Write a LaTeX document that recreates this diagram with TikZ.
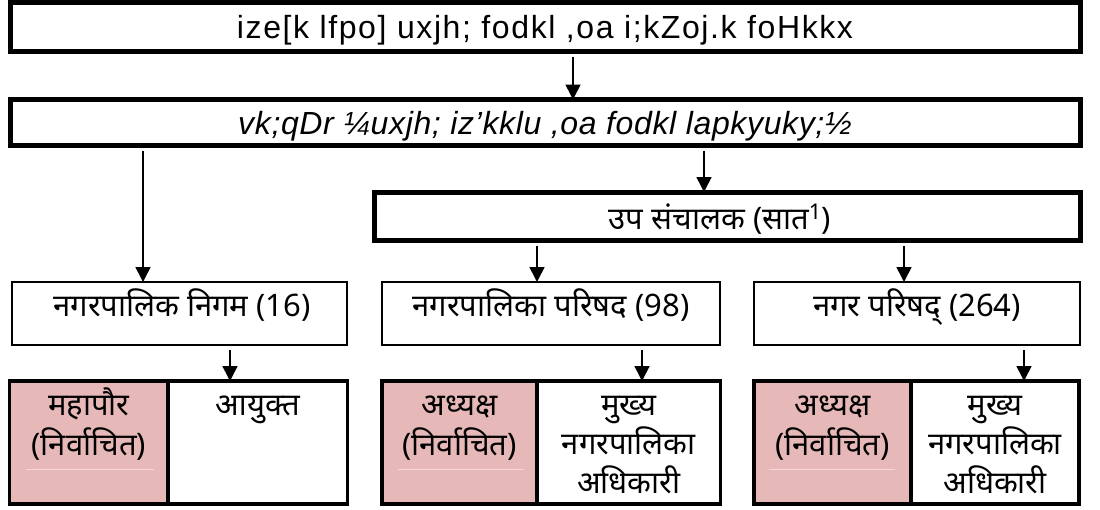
\documentclass[tikz,border=0pt]{standalone}
\usepackage{fontspec}
\setmainfont{Liberation Sans}
\newfontfamily\deva[Script=Devanagari]{Noto Sans}
\usetikzlibrary{arrows.meta}
\definecolor{pinkcell}{RGB}{230,184,183}
\definecolor{pinkline}{RGB}{243,216,215}
\begin{document}
\begin{tikzpicture}[x=1pt,y=-1pt,
  heavybox/.style={draw,line width=5pt,inner sep=0pt,outer sep=0pt},
  thinbox/.style={draw,line width=2pt,inner sep=0pt,outer sep=0pt},
  cellbox/.style={draw,line width=3.5pt,inner sep=0pt,outer sep=0pt},
  pinkbox/.style={cellbox,fill=pinkcell},
  whitebox/.style={cellbox,fill=white},
  legacytxt/.style={font=\fontsize{32}{36}\selectfont\addfontfeature{LetterSpace=5},inner sep=0pt,anchor=base},
  devtxt/.style={font=\deva\fontsize{31}{36}\selectfont,inner sep=0pt,anchor=base},
  celltxt/.style={font=\deva\fontsize{31}{36}\selectfont,inner sep=0pt,anchor=base},
  arr/.style={line width=1.6pt,-{Triangle[width=15pt,length=15pt]},shorten <=5pt},
  faint/.style={draw=pinkline,line width=1pt}
]
\useasboundingbox (0,0) rectangle (1100,509);

% top boxes
\node[heavybox,minimum width=1070pt,minimum height=49pt] (b1) at (545,27) {};
\node[legacytxt] (t1) at (545,38) {ize[k lfpo] uxjh; fodkl ,oa i;kZoj.k foHkkx};
\node[heavybox,minimum width=1070pt,minimum height=46pt] (b2) at (545,122.5) {};
\node[legacytxt,font=\itshape\fontsize{32}{36}\selectfont\addfontfeature{LetterSpace=2}] (t2) at (545,134) {vk;qDr ¼uxjh; iz'kklu ,oa fodkl lapkyuky;½};
\node[heavybox,minimum width=705.5pt,minimum height=48.5pt] (b3) at (727.25,216.25) {};
\node[devtxt] (t3) at (720,229) {उप संचालक (सात\textsuperscript{1})};

% second row
\node[thinbox,minimum width=335pt,minimum height=63pt] (rA) at (179,313.5) {};
\node[devtxt] (tA) at (182,316) {नगरपालिक निगम (16)};
\node[thinbox,minimum width=338pt,minimum height=63pt] (rB) at (551,313.5) {};
\node[devtxt] (tB) at (551,316) {नगरपालिका परिषद (98)};
\node[thinbox,minimum width=326pt,minimum height=63pt] (rC) at (917,313.5) {};
\node[devtxt] (tC) at (917,316) {नगर परिषद् (264)};

% bottom groups
\node[pinkbox,minimum width=158.5pt,minimum height=123pt] (pA) at (88.75,442.5) {};
\node[whitebox,minimum width=179.5pt,minimum height=123pt] (wA) at (257.75,442.5) {};
\node[pinkbox,minimum width=155pt,minimum height=123pt] (pB) at (459.5,442.5) {};
\node[whitebox,minimum width=183.5pt,minimum height=123pt] (wB) at (628.75,442.5) {};
\node[pinkbox,minimum width=157pt,minimum height=123pt] (pC) at (832.5,442.5) {};
\node[whitebox,minimum width=168pt,minimum height=123pt] (wC) at (995,442.5) {};

\coordinate (lA1) at (26,469);  \coordinate (lA2) at (154,469);
\coordinate (lB1) at (398,469); \coordinate (lB2) at (524,469);
\coordinate (lC1) at (769,469); \coordinate (lC2) at (895,469);
\draw[faint] (lA1) -- (lA2);
\draw[faint] (lB1) -- (lB2);
\draw[faint] (lC1) -- (lC2);

\node[celltxt] (cpA1) at (88.75,415) {महापौर};
\node[celltxt] (cpA2) at (88.75,455) {(निर्वाचित)};
\node[celltxt] (cwA1) at (257.75,415) {आयुक्त};
\node[celltxt] (cpB1) at (459.5,415) {अध्यक्ष};
\node[celltxt] (cpB2) at (459.5,455) {(निर्वाचित)};
\node[celltxt] (cwB1) at (628.75,415) {मुख्य};
\node[celltxt] (cwB2) at (628.75,454) {नगरपालिका};
\node[celltxt] (cwB3) at (628.75,493) {अधिकारी};
\node[celltxt] (cpC1) at (832.5,415) {अध्यक्ष};
\node[celltxt] (cpC2) at (832.5,455) {(निर्वाचित)};
\node[celltxt] (cwC1) at (995,415) {मुख्य};
\node[celltxt] (cwC2) at (995,454) {नगरपालिका};
\node[celltxt] (cwC3) at (995,493) {अधिकारी};

% arrow columns
\coordinate (x1) at (573,0);
\coordinate (x2) at (143,0);
\coordinate (x3) at (704,0);
\coordinate (x4) at (537,0);
\coordinate (x5) at (904,0);
\coordinate (x6) at (230,0);
\coordinate (x7) at (642,0);
\coordinate (x8) at (1024,0);

\draw[arr] (b1.south -| x1) -- (b2.north -| x1);
\draw[arr] (b2.south -| x2) -- (rA.north -| x2);
\draw[arr] (b2.south -| x3) -- (b3.north -| x3);
\draw[arr] (b3.south -| x4) -- (rB.north -| x4);
\draw[arr] (b3.south -| x5) -- (rC.north -| x5);
\draw[arr] (rA.south -| x6) -- (wA.north -| x6);
\draw[arr] (rB.south -| x7) -- (wB.north -| x7);
\draw[arr] (rC.south -| x8) -- (wC.north -| x8);
\end{tikzpicture}
\end{document}
